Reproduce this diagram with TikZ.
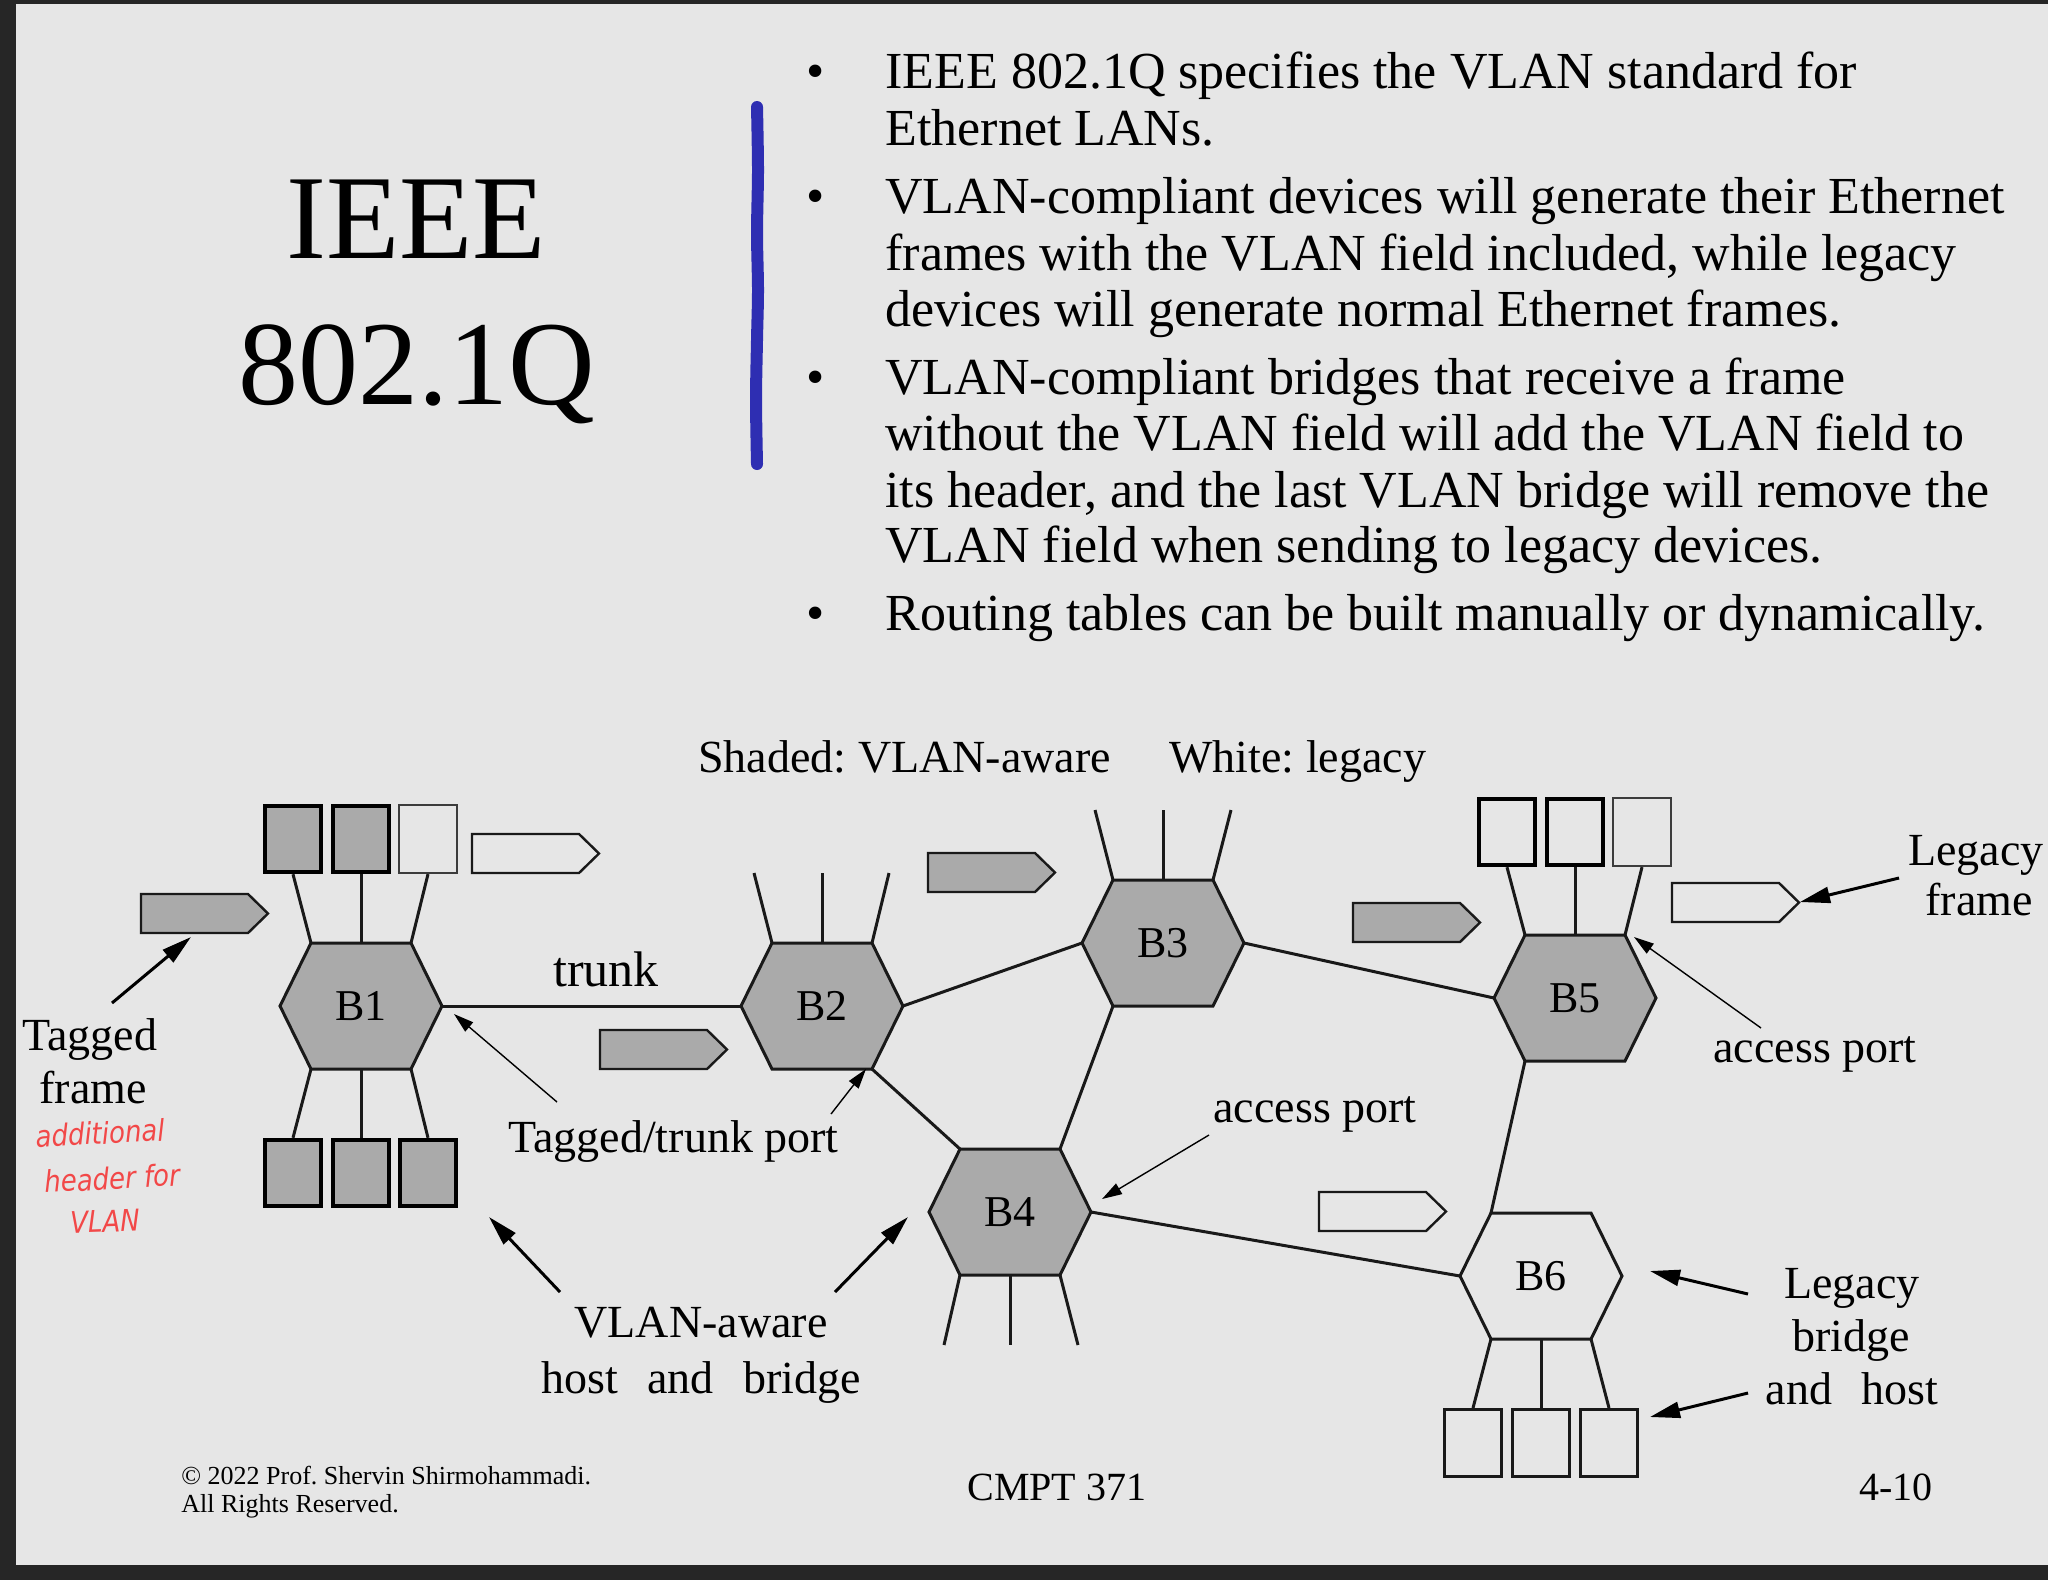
\documentclass[tikz,border=0pt]{standalone}
\usepackage{fontspec}
\setmainfont{Liberation Serif}
\newfontfamily\notefont{DejaVu Sans}
\usetikzlibrary{arrows.meta}
\frenchspacing

\definecolor{slidebg}{RGB}{230,230,230}
\definecolor{edgedark}{RGB}{38,38,38}
\definecolor{vlangray}{RGB}{170,170,170}
\definecolor{ink}{RGB}{25,25,25}
\definecolor{penblue}{RGB}{46,46,178}
\definecolor{penred}{RGB}{242,72,72}

\tikzset{
  bodytext/.style={anchor=base west, inner sep=0pt, font=\fontsize{26}{30}\selectfont},
  bulletmark/.style={anchor=base, inner sep=0pt, font=\fontsize{26}{30}\selectfont},
  titletext/.style={anchor=base, inner sep=0pt, font=\fontsize{60}{70}\selectfont},
  figlabel/.style={inner sep=0pt, font=\fontsize{23}{27}\selectfont},
  hexlabel/.style={inner sep=0pt, font=\fontsize{22}{26}\selectfont},
  footsmall/.style={anchor=base west, inner sep=0pt, font=\fontsize{13}{15}\selectfont},
  footbig/.style={anchor=base west, inner sep=0pt, font=\fontsize{20}{24}\selectfont},
  note/.style={inner sep=0pt, text=penred, font=\notefont\itshape\fontsize{13}{15}\selectfont},
  link/.style={draw=ink, line width=1.5pt},
  vlanbox/.style={rectangle, inner sep=0pt, minimum width=28pt, minimum height=33pt,
                  fill=vlangray, draw=black, line width=2.2pt},
  legacybox/.style={rectangle, inner sep=0pt, minimum width=28pt, minimum height=33pt,
                  draw=black, line width=2.2pt},
  lightbox/.style={rectangle, inner sep=0pt, minimum width=29pt, minimum height=34pt,
                  draw=ink!85, line width=1.1pt},
  plainbox/.style={rectangle, inner sep=0pt, minimum width=28.5pt, minimum height=33.5pt,
                  draw=ink, line width=1.5pt},
  bigarrow/.style={draw=black, line width=1.5pt, -{Triangle[length=15pt,width=8pt]}},
  smallarrow/.style={draw=black, line width=0.7pt, -{Triangle[length=10pt,width=6pt]}},
  % bridge: flat-topped hexagon with named corners
  pics/bridgehex/.style 2 args={code={
    \path[draw=ink, line width=1.5pt, fill=#2, line join=miter]
      (-81,0) coordinate (-w) -- (-50,-63) coordinate (-nw) -- (50,-63) coordinate (-ne)
      -- (81,0) coordinate (-e) -- (50,63) coordinate (-se) -- (-50,63) coordinate (-sw) -- cycle;
    \coordinate (-n) at (0,-63);
    \coordinate (-s) at (0,63);
    \node[hexlabel] (-name) at (0,0) {#1};
  }},
  % frame symbol: box with a pointed right end
  pics/framesym/.style={code={
    \path[draw=ink, line width=1.2pt, fill=#1, line join=miter]
      (0,0) -- (107,0) -- (127,19.5) -- (107,39) -- (0,39) -- cycle;
  }},
}

\begin{document}
\begin{tikzpicture}[x=0.5pt,y=-0.5pt]
\useasboundingbox (0,0) rectangle (2048,1580);
\fill[edgedark] (0,0) rectangle (2048,1580);
\fill[slidebg] (16,4) rectangle (2048,1565);

% ---- title ----
\node[titletext] (title1) at (416,258) {IEEE};
\node[titletext] (title2) at (417,404) {802.1Q};

% pen stroke
\draw[penblue, line width=6pt, line cap=round] plot[smooth] coordinates
  {(757,107) (758,170) (757,233) (758,290) (757,340) (756,400) (757,464)};

% ---- bullet list ----
\node[bulletmark] (d1) at (816,88) {•};
\node[bulletmark] (d2) at (816,213) {•};
\node[bulletmark] (d3) at (816,394) {•};
\node[bulletmark] (d4) at (816,630) {•};
\node[bodytext] (l1) at (885,88) {IEEE 802.1Q specifies the VLAN standard for};
\node[bodytext] (l2) at (885,145) {Ethernet LANs.};
\node[bodytext] (l3) at (885,213) {VLAN-compliant devices will generate their Ethernet};
\node[bodytext] (l4) at (885,270) {frames with the VLAN field included, while legacy};
\node[bodytext] (l5) at (885,326) {devices will generate normal Ethernet frames.};
\node[bodytext] (l6) at (885,394) {VLAN-compliant bridges that receive a frame};
\node[bodytext] (l7) at (885,450) {without the VLAN field will add the VLAN field to};
\node[bodytext] (l8) at (885,507) {its header, and the last VLAN bridge will remove the};
\node[bodytext] (l9) at (885,562) {VLAN field when sending to legacy devices.};
\node[bodytext] (l10) at (885,630) {Routing tables can be built manually or dynamically.};

% ---- key ----
\node[figlabel, anchor=base west] (shadedkey) at (698,772) {Shaded: VLAN-aware};
\node[figlabel, anchor=base west] (whitekey) at (1169,772) {White: legacy};

% ---- host boxes ----
\node[vlanbox] (b1u1) at (293,839) {};
\node[vlanbox] (b1u2) at (361,839) {};
\node[lightbox] (b1u3) at (428,839) {};
\node[vlanbox] (b1d1) at (293,1173) {};
\node[vlanbox] (b1d2) at (361,1173) {};
\node[vlanbox] (b1d3) at (428,1173) {};
\node[legacybox] (b5u1) at (1507,832) {};
\node[legacybox] (b5u2) at (1575,832) {};
\node[lightbox] (b5u3) at (1642,832) {};
\node[plainbox] (b6d1) at (1473,1443) {};
\node[plainbox] (b6d2) at (1541,1443) {};
\node[plainbox] (b6d3) at (1609,1443) {};

% ---- bridges ----
\pic (B1) at (361,1006) {bridgehex={B1}{vlangray}};
\pic (B2) at (822,1006) {bridgehex={B2}{vlangray}};
\pic (B3) at (1163,943) {bridgehex={B3}{vlangray}};
\pic (B4) at (1010,1212) {bridgehex={B4}{vlangray}};
\pic (B5) at (1575,998) {bridgehex={B5}{vlangray}};
\pic (B6) at (1541,1276) {bridgehex={B6}{none}};

% ---- links between bridges ----
\draw[link] (B1-e) -- (B2-w);
\draw[link] (B2-e) -- (B3-w);
\draw[link] (B2-se) -- (B4-nw);
\draw[link] (B3-sw) -- (B4-ne);
\draw[link] (B3-e) -- (B5-w);
\draw[link] (B5-sw) -- (B6-nw);
\draw[link] (B4-e) -- (B6-w);

% ---- ports to hosts ----
\draw[link] (B1-nw) -- (b1u1.south);
\draw[link] (B1-n) -- (b1u2.south);
\draw[link] (B1-ne) -- (b1u3.south);
\draw[link] (B1-sw) -- (b1d1.north);
\draw[link] (B1-s) -- (b1d2.north);
\draw[link] (B1-se) -- (b1d3.north);
\draw[link] (B5-nw) -- (b5u1.south);
\draw[link] (B5-n) -- (b5u2.south);
\draw[link] (B5-ne) -- (b5u3.south);
\draw[link] (B6-sw) -- (b6d1.north);
\draw[link] (B6-s) -- (b6d2.north);
\draw[link] (B6-se) -- (b6d3.north);

% open ports
\coordinate (p2a) at (754,873);
\coordinate (p2b) at (822,873);
\coordinate (p2c) at (889,873);
\coordinate (p3a) at (1095,810);
\coordinate (p3b) at (1163,810);
\coordinate (p3c) at (1231,810);
\coordinate (p4a) at (944,1345);
\coordinate (p4b) at (1010,1345);
\coordinate (p4c) at (1078,1345);
\draw[link] (B2-nw) -- (p2a);
\draw[link] (B2-n) -- (p2b);
\draw[link] (B2-ne) -- (p2c);
\draw[link] (B3-nw) -- (p3a);
\draw[link] (B3-n) -- (p3b);
\draw[link] (B3-ne) -- (p3c);
\draw[link] (B4-sw) -- (p4a);
\draw[link] (B4-s) -- (p4b);
\draw[link] (B4-se) -- (p4c);

% ---- frames in transit ----
\pic at (141,894) {framesym=vlangray};
\pic at (472,834) {framesym=none};
\pic at (600,1030) {framesym=vlangray};
\pic at (928,853) {framesym=vlangray};
\pic at (1353,903) {framesym=vlangray};
\pic at (1672,883) {framesym=none};
\pic at (1319,1192) {framesym=none};

% ---- labels ----
\node[figlabel, anchor=base, font=\fontsize{25}{30}\selectfont] (trunklbl) at (606,986) {trunk};
\node[figlabel, anchor=base west] (portlbl) at (508,1152) {Tagged/trunk port};
\node[figlabel, anchor=base] (tag1) at (90,1050) {Tagged};
\node[figlabel, anchor=base] (tag2) at (93,1103) {frame};
\node[figlabel, anchor=base] (aware1) at (701,1337) {VLAN-aware};
\node[figlabel, anchor=base] (aware2) at (701,1393) {host\hspace{0.64em}and\hspace{0.64em}bridge};
\node[figlabel, anchor=base west] (access1) at (1213,1122) {access port};
\node[figlabel, anchor=base west] (access2) at (1713,1062) {access port};
\node[figlabel, anchor=base] (leg1) at (1976,865) {Legacy};
\node[figlabel, anchor=base] (leg2) at (1979,915) {frame};
\node[figlabel, anchor=base] (lb1) at (1852,1298) {Legacy};
\node[figlabel, anchor=base] (lb2) at (1851,1351) {bridge};
\node[figlabel, anchor=base] (lb3) at (1852,1404) {and\hspace{0.64em}host};

% handwritten note
\node[note, rotate=3, yscale=1.15] (n1) at (100,1133) {additional};
\node[note, rotate=3, yscale=1.15] (n2) at (112,1178) {header for};
\node[note, rotate=2, yscale=1.15] (n3) at (105,1221) {VLAN};

% ---- pointer arrows ----
\coordinate (t1) at (112,1003);  \coordinate (h1) at (191,937);
\coordinate (t2) at (557,1102);  \coordinate (h2) at (454,1014);
\coordinate (t3) at (831,1114);  \coordinate (h3) at (866,1069);
\coordinate (t4) at (560,1292);  \coordinate (h4) at (489,1217);
\coordinate (t5) at (835,1292);  \coordinate (h5) at (908,1217);
\coordinate (t6) at (1209,1135); \coordinate (h6) at (1102,1199);
\coordinate (t7) at (1761,1028); \coordinate (h7) at (1634,937);
\coordinate (t8) at (1899,878);  \coordinate (h8) at (1800,902);
\coordinate (t9) at (1748,1294); \coordinate (h9) at (1650,1271);
\coordinate (t10) at (1748,1393); \coordinate (h10) at (1650,1417);
\draw[bigarrow] (t1) -- (h1);
\draw[smallarrow] (t2) -- (h2);
\draw[smallarrow] (t3) -- (h3);
\draw[bigarrow] (t4) -- (h4);
\draw[bigarrow] (t5) -- (h5);
\draw[smallarrow] (t6) -- (h6);
\draw[smallarrow] (t7) -- (h7);
\draw[bigarrow] (t8) -- (h8);
\draw[bigarrow] (t9) -- (h9);
\draw[bigarrow] (t10) -- (h10);

% ---- footer ----
\node[footsmall] (copy1) at (181,1484) {© 2022 Prof. Shervin Shirmohammadi.};
\node[footsmall] (copy2) at (181,1512) {All Rights Reserved.};
\node[footbig] (course) at (967,1500) {CMPT 371};
\node[footbig] (slideno) at (1859,1500) {4-10};
\end{tikzpicture}
\end{document}
